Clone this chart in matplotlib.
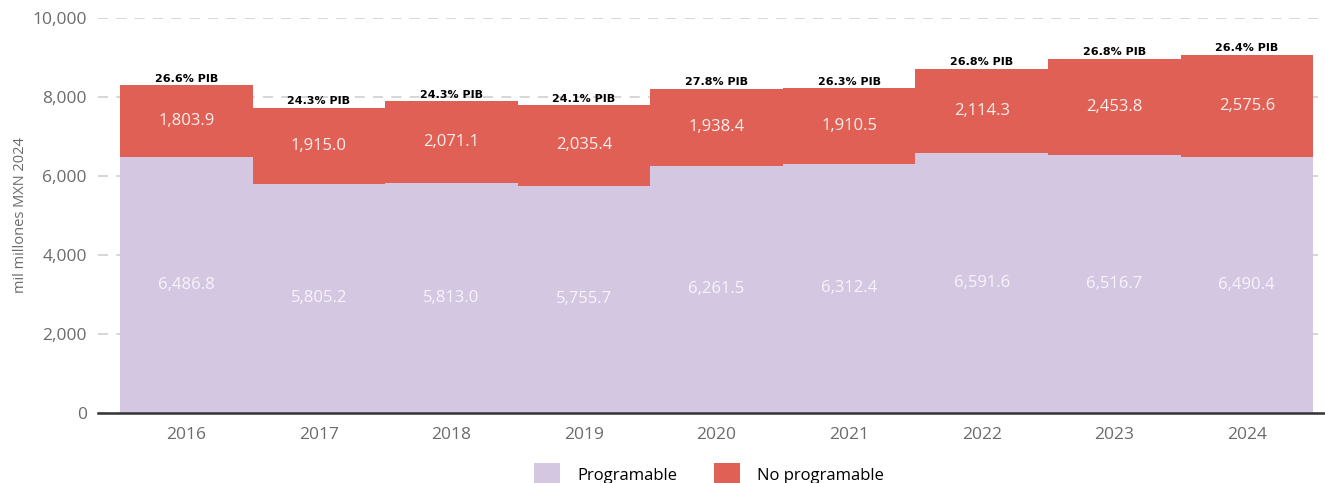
import matplotlib.pyplot as plt
from matplotlib.patches import Patch

years = ['2016', '2017', '2018', '2019', '2020', '2021', '2022', '2023', '2024']
programable = [6486.8, 5805.2, 5813.0, 5755.7, 6261.5, 6312.4, 6591.6, 6516.7, 6490.4]
no_programable = [1803.9, 1915.0, 2071.1, 2035.4, 1938.4, 1910.5, 2114.3, 2453.8, 2575.6]
pib = ['26.6%', '24.3%', '24.3%', '24.1%', '27.8%', '26.3%', '26.8%', '26.8%', '26.4%']

c_prog = '#d4c7e2'
c_noprog = '#e06055'
grey = '#6b6b6b'

plt.rcParams['font.family'] = ['Open Sans', 'DejaVu Sans']

fig = plt.figure(figsize=(13.25, 4.83), dpi=100)
ax = fig.add_axes([0.074, 0.145, 0.926, 0.818])

x = list(range(len(years)))
ax.bar(x, programable, width=1.0, color=c_prog, zorder=2)
ax.bar(x, no_programable, width=1.0, bottom=programable, color=c_noprog, zorder=2)

for i in x:
    p = programable[i]
    n = no_programable[i]
    ax.text(i, p / 2, f'{p:,.1f}', ha='center', va='center', color='#f8f4fb', fontsize=12, zorder=3)
    ax.text(i, p + n / 2, f'{n:,.1f}', ha='center', va='center', color='#fbf0ee', fontsize=12, zorder=3)
    ax.text(i, p + n + 40, pib[i] + ' PIB', ha='center', va='bottom', color='black',
            fontsize=8, fontweight='bold', family='DejaVu Sans', zorder=3)

ax.set_xlim(-0.666, 8.59)
ax.set_ylim(0, 10000)
ax.set_yticks(range(0, 10001, 2000))
ax.set_yticklabels([f'{v:,}' for v in range(0, 10001, 2000)])
ax.set_xticks(x)
ax.set_xticklabels(years)
ax.tick_params(axis='both', length=0, colors=grey, labelsize=12.5)
ax.tick_params(axis='y', pad=8)
ax.tick_params(axis='x', pad=10)
ax.yaxis.grid(True, color='#d0d0d0', linestyle=(0, (6, 5)), linewidth=1.2, zorder=0)
ax.set_axisbelow(True)
for s in ['top', 'right', 'left']:
    ax.spines[s].set_visible(False)
ax.spines['bottom'].set_color('#333333')
ax.spines['bottom'].set_linewidth(1.8)
ax.spines['bottom'].set_zorder(4)

ax.set_ylabel('mil millones MXN 2024', color=grey, fontsize=10.5, labelpad=3)

handles = [Patch(facecolor=c_prog, label='Programable'),
           Patch(facecolor=c_noprog, label='No programable')]
fig.legend(handles=handles, loc='lower center', bbox_to_anchor=(0.535, -0.035), ncol=2,
           frameon=False, fontsize=12, handlelength=1.6, handleheight=1.6,
           columnspacing=2.2, handletextpad=1.0)

fig.savefig('out.png', dpi=100)
